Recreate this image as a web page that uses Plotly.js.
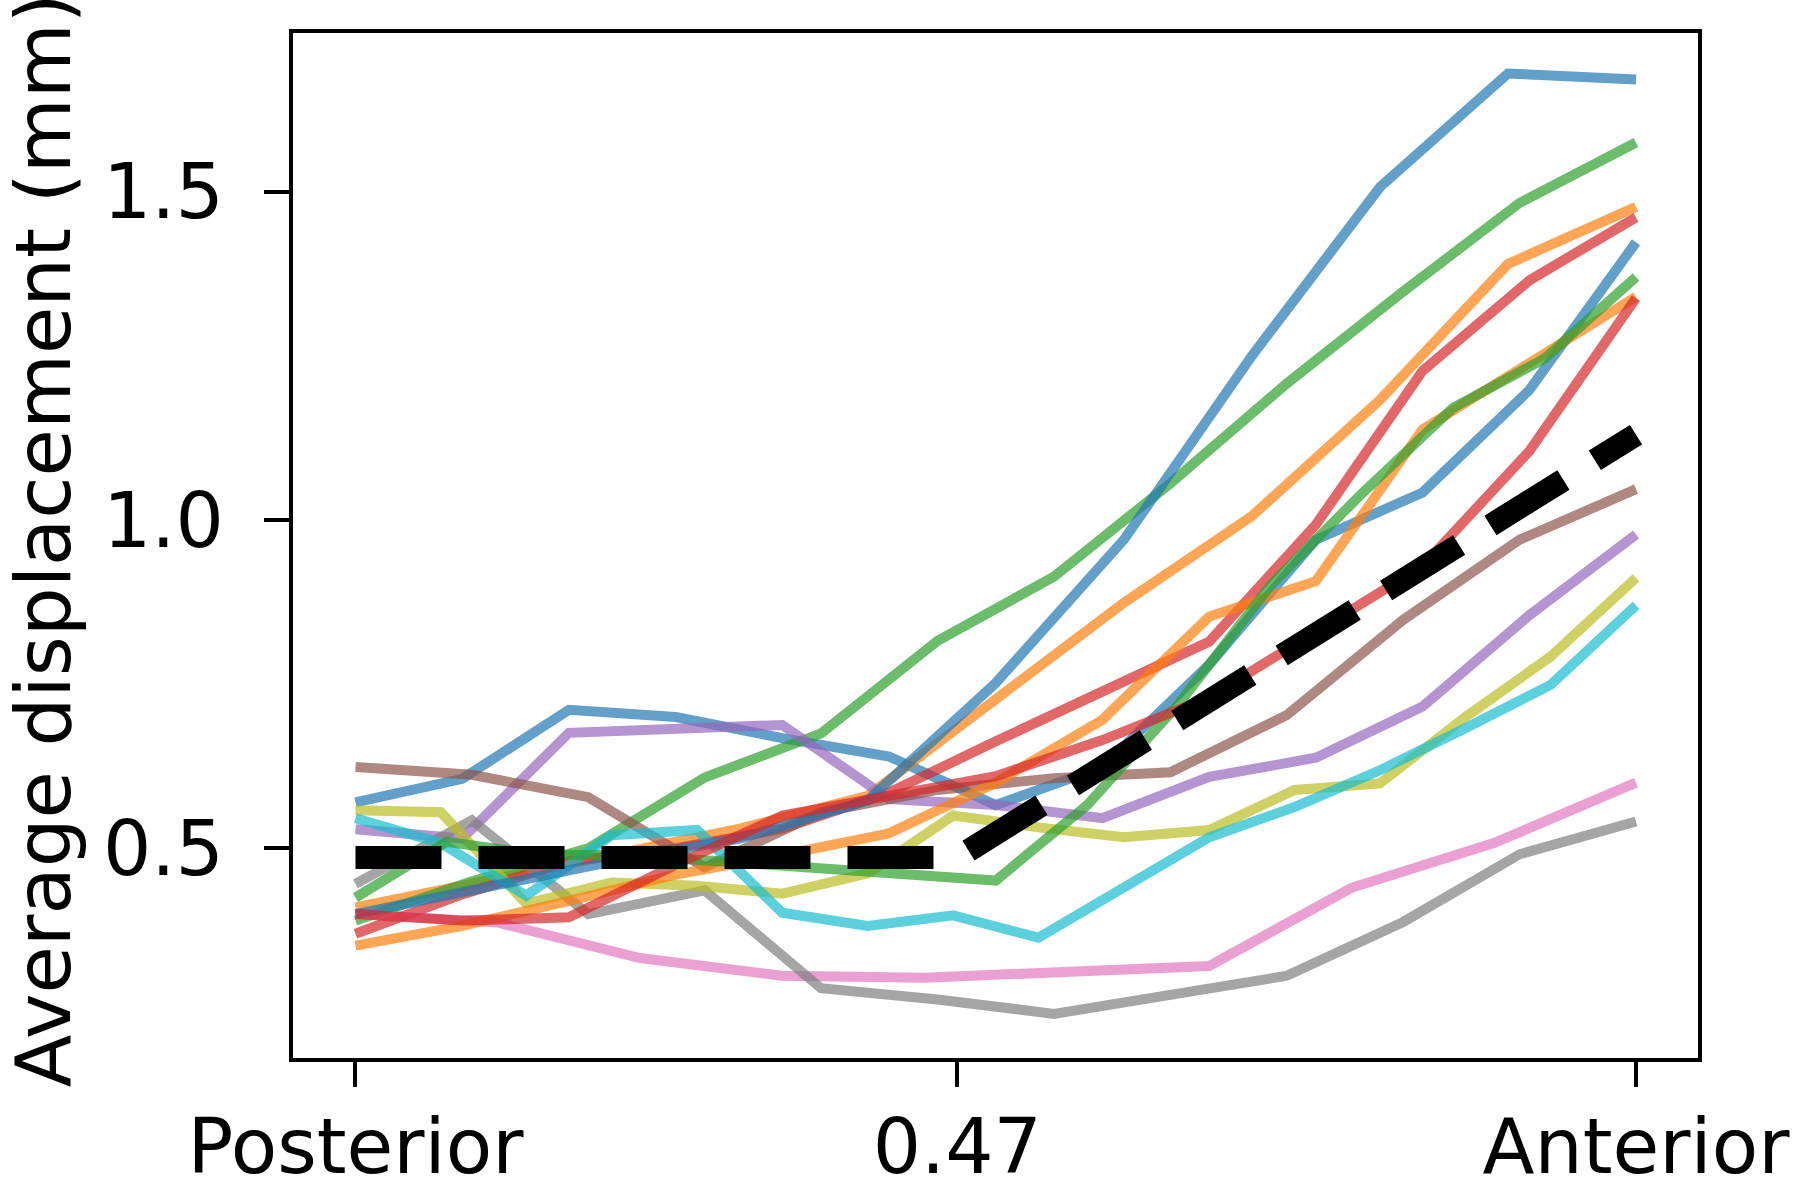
<!DOCTYPE html>
<html><head><meta charset="utf-8">
<script src="https://cdn.plot.ly/plotly-3.0.1.min.js"></script>
<style>html,body{margin:0;padding:0;background:#fff;} #chart{width:1800px;height:1179px;}</style>
</head><body><div id="chart"></div>
<script>
// x sampling grids (normalized position, Posterior=0 .. Anterior=1)
const xs10 = [0, 0.1111, 0.2222, 0.3333, 0.4444, 0.5556, 0.6667, 0.7778, 0.8889, 1];
const xs11 = [0, 0.1, 0.2, 0.3, 0.4, 0.5, 0.6, 0.7, 0.8, 0.9, 1];
const xs12 = [0, 0.0909, 0.1818, 0.2727, 0.3636, 0.4545, 0.5455, 0.6364, 0.7273, 0.8182, 0.9091, 1];
const xs13 = [0, 0.0833, 0.1667, 0.25, 0.3333, 0.4167, 0.5, 0.5833, 0.6667, 0.75, 0.8333, 0.9167, 1];
const xs15 = [0, 0.0714, 0.1429, 0.2143, 0.2857, 0.3571, 0.4286, 0.5, 0.5714, 0.6429, 0.7143, 0.7857, 0.8571, 0.9286, 1];
const xs16 = [0, 0.0667, 0.1333, 0.2, 0.2667, 0.3333, 0.4, 0.4667, 0.5333, 0.6, 0.6667, 0.7333, 0.8, 0.8667, 0.9333, 1];

// series values (average displacement, mm)
const blueA   = [0.570, 0.606, 0.711, 0.700, 0.668, 0.640, 0.566, 0.624, 0.78, 0.970, 1.042, 1.198, 1.423];
const orange1 = [0.41, 0.45, 0.49, 0.53, 0.58, 0.728, 0.874, 1.006, 1.183, 1.39, 1.477];
const greenA  = [0.39, 0.45, 0.50, 0.608, 0.675, 0.816, 0.914, 1.056, 1.208, 1.348, 1.483, 1.575];
const red1    = [0.37, 0.43, 0.48, 0.50, 0.53, 0.585, 0.663, 0.740, 0.815, 0.993, 1.227, 1.365, 1.461];
const purple  = [0.529, 0.515, 0.676, 0.682, 0.688, 0.575, 0.566, 0.546, 0.609, 0.638, 0.716, 0.855, 0.978];
const brown   = [0.624, 0.612, 0.578, 0.471, 0.555, 0.589, 0.607, 0.616, 0.703, 0.848, 0.97, 1.047];
const pink    = [0.401, 0.387, 0.333, 0.306, 0.303, 0.312, 0.321, 0.44, 0.508, 0.60];
const gray    = [0.446, 0.543, 0.40, 0.436, 0.287, 0.27, 0.248, 0.278, 0.306, 0.388, 0.491, 0.541];
const olive   = [0.558, 0.555, 0.416, 0.448, 0.443, 0.431, 0.462, 0.55, 0.532, 0.517, 0.528, 0.589, 0.599, 0.70, 0.792, 0.912];
const cyan    = [0.546, 0.508, 0.428, 0.52, 0.528, 0.402, 0.382, 0.398, 0.364, 0.439, 0.517, 0.563, 0.619, 0.683, 0.749, 0.87];
const blueTop = [0.40, 0.44, 0.48, 0.515, 0.573, 0.752, 0.97, 1.25, 1.507, 1.68, 1.671];
const orange2 = [0.352, 0.382, 0.42, 0.46, 0.49, 0.523, 0.60, 0.696, 0.853, 0.907, 1.138, 1.24, 1.34];
const greenB  = [0.425, 0.51, 0.49, 0.49, 0.48, 0.471, 0.462, 0.451, 0.566, 0.72, 0.90, 1.04, 1.171, 1.246, 1.37];
const red2    = [0.40, 0.39, 0.395, 0.475, 0.55, 0.58, 0.61, 0.665, 0.73, 0.83, 0.93, 1.105, 1.338];

// mean (broken-stick) fit
const meanX = [0, 0.47, 1];
const meanY = [0.486, 0.486, 1.13];

const tickVals = [0, 0.47, 1];
const tickText = ['Posterior', '0.47', 'Anterior'];
const yTickVals = [0.5, 1.0, 1.5];
const yTickText = ['0.5', '1.0', '1.5'];

const C = {blue:'#1f77b4', orange:'#ff7f0e', green:'#2ca02c', red:'#d62728', purple:'#9467bd',
           brown:'#8c564b', pink:'#e377c2', gray:'#7f7f7f', olive:'#bcbd22', cyan:'#17becf'};

const series = [
  [xs13, blueA, C.blue], [xs11, orange1, C.orange], [xs12, greenA, C.green], [xs13, red1, C.red],
  [xs13, purple, C.purple], [xs12, brown, C.brown], [xs10, pink, C.pink], [xs12, gray, C.gray],
  [xs16, olive, C.olive], [xs16, cyan, C.cyan], [xs11, blueTop, C.blue], [xs13, orange2, C.orange],
  [xs15, greenB, C.green], [xs13, red2, C.red]
];

const traces = series.map(s => ({
  x: s[0], y: s[1], type: 'scatter', mode: 'lines', opacity: 0.7,
  line: {color: s[2], width: 10}, hoverinfo: 'skip'
}));
traces.push({x: meanX, y: meanY, type: 'scatter', mode: 'lines',
  line: {color: '#000000', width: 23, dash: '86px,37px'}, hoverinfo: 'skip'});

const font = {family: 'DejaVu Sans', size: 76, color: '#000'};
const titleFont = {family: 'DejaVu Sans', size: 77, color: '#000'};
const layout = {
  width: 1800, height: 1179,
  margin: {l: 292.5, r: 102, t: 33, b: 121},
  paper_bgcolor: '#fff', plot_bgcolor: '#fff',
  showlegend: false,
  font: font,
  xaxis: {range: [-0.0488, 1.0484], tickvals: tickVals, ticktext: tickText, ticks: 'outside',
          ticklen: 25, tickwidth: 4, tickcolor: '#000', showline: true, linecolor: '#000', linewidth: 4,
          mirror: true, showgrid: false, zeroline: false, tickfont: font, ticklabelstandoff: -5},
  yaxis: {range: [0.1808, 1.7417], tickvals: yTickVals, ticktext: yTickText, ticks: 'outside',
          ticklen: 25, tickwidth: 4, tickcolor: '#000', showline: true, linecolor: '#000', linewidth: 4,
          mirror: true, showgrid: false, zeroline: false, tickfont: font, ticklabelstandoff: 25},
  annotations: [{text: 'Average displacement (mm)', textangle: -90, xref: 'paper', yref: 'paper',
                 x: -0.178, y: 0.505, xanchor: 'center', yanchor: 'middle', showarrow: false, font: titleFont}]
};
Plotly.newPlot('chart', traces, layout, {staticPlot: true});
</script></body></html>
